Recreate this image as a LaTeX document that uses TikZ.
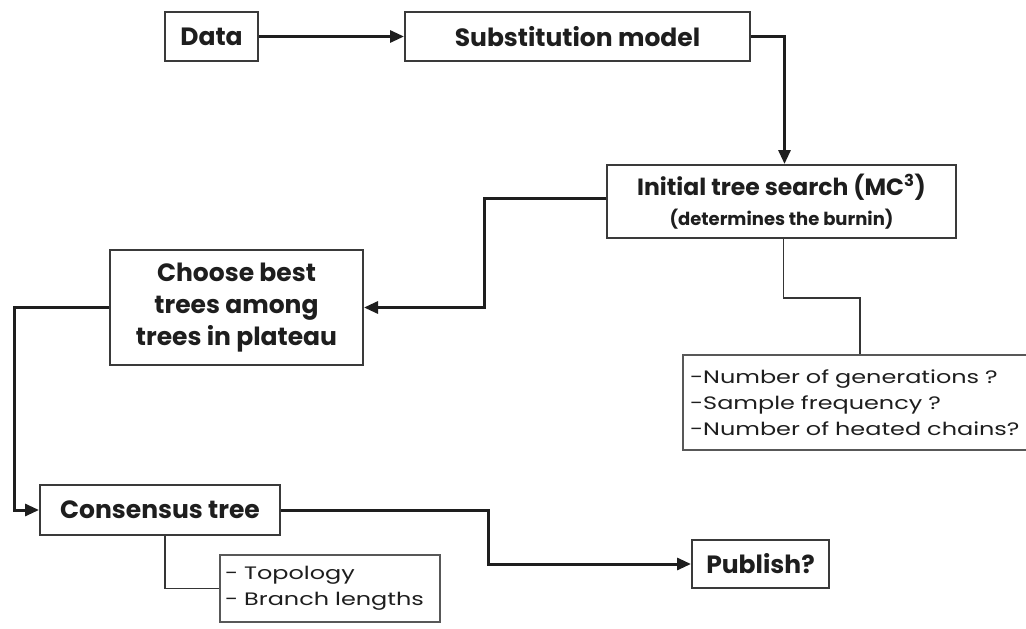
\documentclass[tikz,border=0pt]{standalone}
\usepackage{fontspec}
\setmainfont{Poppins}
\newfontfamily\notefont[FakeStretch=1.33]{Poppins}
\usetikzlibrary{arrows.meta}
\definecolor{ink}{HTML}{1E1E1E}
\definecolor{frame}{HTML}{3A3A3A}
\begin{document}
\begin{tikzpicture}[x=1pt,y=-1pt,
  stepbox/.style={draw=frame,line width=2pt,fill=white,inner sep=0pt,align=center,
    text=ink,font=\fontsize{25}{32}\selectfont\bfseries},
  notebox/.style={draw=frame!85,line width=1.6pt,fill=white,inner sep=0pt,align=left,
    text=ink,font=\notefont\fontsize{18}{26}\selectfont},
  flow/.style={draw=ink,line width=3pt,-{Triangle[length=14pt,width=12pt]}},
  link/.style={draw=ink!90,line width=1.4pt}]
\useasboundingbox (0,0) rectangle (1026,629);
\fill[white] (0,0) rectangle (1026,629);

% boxes
\node[stepbox,minimum width=93pt,minimum height=49pt] (data) at (211.5,36.5) {Data};
\node[stepbox,minimum width=345pt,minimum height=49pt] (subst) at (577.5,36.5) {Substitution model};
\node[stepbox,minimum width=349pt,minimum height=73pt] (init) at (781.5,201.5)
  {{\fontsize{23.5}{30}\selectfont Initial tree search (MC\textsuperscript{3})}\\[-2pt]{\fontsize{18}{22}\selectfont(determines the burnin)}};
\node[stepbox,minimum width=253pt,minimum height=115pt] (choose) at (236.5,307.5)
  {Choose best\\trees among\\trees in plateau};
\node[notebox,minimum width=350pt,minimum height=95pt,text width=336pt] (params) at (858,402.5)
  {-Number of generations ?\\-Sample frequency ?\\-Number of heated chains?};
\node[stepbox,minimum width=240pt,minimum height=50pt] (cons) at (160,510) {Consensus tree};
\node[stepbox,minimum width=137pt,minimum height=48pt] (publish) at (760.5,564) {Publish?};
\node[notebox,minimum width=220pt,minimum height=67pt,text width=210pt] (topo) at (330,588.5)
  {- Topology\\- Branch lengths};

% main flow
\draw[flow] (data.east) -- (subst.west);
\draw[flow] (subst.east) -| ([xshift=3pt]init.north);
\draw[flow] ([yshift=3pt]init.west) -- ++(-122,0) |- (choose.east);
\draw[flow] (choose.west) -- ++(-95,0) |- (cons.west);
\draw[flow] (cons.east) -- ++(207,0) |- (publish.west);

% annotations
\draw[link] ([xshift=2pt]init.south) -- ++(0,59) -| ([xshift=2pt]params.north);
\draw[link] ([xshift=5pt]cons.south) |- (topo.west);
\end{tikzpicture}
\end{document}
